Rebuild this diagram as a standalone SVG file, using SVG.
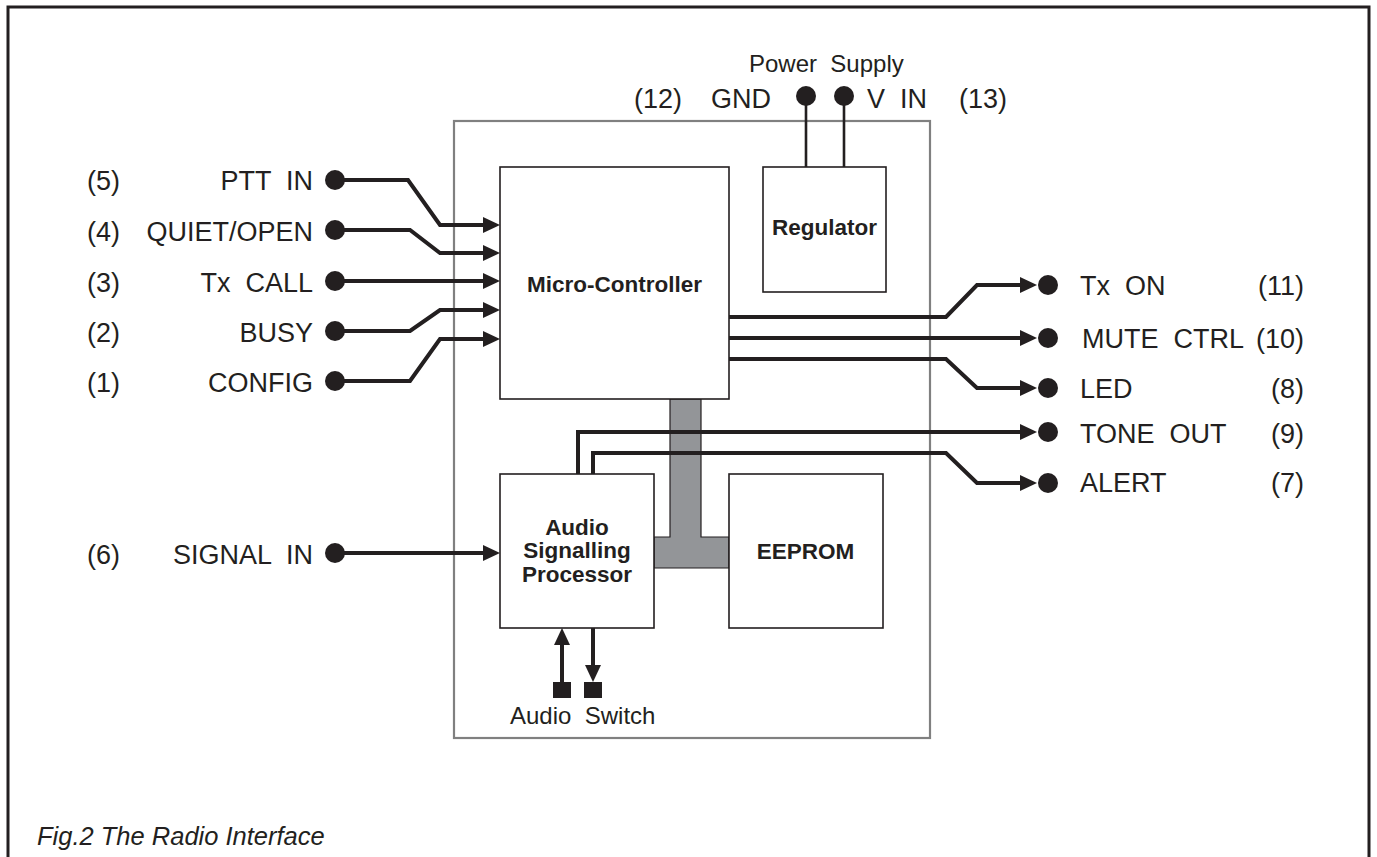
<svg xmlns="http://www.w3.org/2000/svg" width="1377" height="857" viewBox="0 0 1377 857">
<style>
text{font-family:"Liberation Sans",Arial,Helvetica,sans-serif;fill:#231f20;white-space:pre}
.t{font-size:27px}
.s{font-size:24px}
.b{font-size:22.5px;font-weight:bold}
.cap{font-size:25.5px;font-style:italic}
.box{fill:#fff;stroke:#231f20;stroke-width:1.6}
.sig{fill:none;stroke:#231f20;stroke-width:4;stroke-linejoin:miter}
.pw{fill:none;stroke:#231f20;stroke-width:2.6}
.dot{fill:#231f20}
</style>
<defs>
<marker id="ah" markerUnits="userSpaceOnUse" markerWidth="18" markerHeight="18" viewBox="0 0 18 18" refX="1" refY="9" orient="auto">
<path d="M0,1 L17,9 L0,17 z" fill="#231f20"/>
</marker>
</defs>
<rect width="1377" height="857" fill="#fff"/>
<path d="M8,857 V7 H1369 V857" fill="none" stroke="#231f20" stroke-width="3"/>
<g id="module"><rect x="454" y="121" width="476" height="617" fill="none" stroke="#808080" stroke-width="2.2"/></g>
<g id="bus"><path d="M670,399 H701 V537 H729 V568 H654 V537 H670 Z" fill="#939598" stroke="#231f20" stroke-width="1.2"/></g>
<g id="microcontroller"><rect class="box" x="500" y="167" width="229" height="232"/><text class="b" x="614.5" y="292" text-anchor="middle">Micro-Controller</text></g>
<g id="regulator"><rect class="box" x="763" y="167" width="123" height="125"/><text class="b" x="824.5" y="235" text-anchor="middle">Regulator</text></g>
<g id="asp"><rect class="box" x="500" y="474" width="154" height="154"/><text class="b" x="577" y="535" text-anchor="middle">Audio</text><text class="b" x="577" y="558" text-anchor="middle">Signalling</text><text class="b" x="577" y="582" text-anchor="middle">Processor</text></g>
<g id="eeprom"><rect class="box" x="729" y="474" width="154" height="154"/><text class="b" x="805.5" y="559" text-anchor="middle">EEPROM</text></g>
<g id="connectors">
<path class="sig" d="M335,180 H408 L440,225 H484" marker-end="url(#ah)"/>
<path class="sig" d="M335,230 H410 L440,253 H484" marker-end="url(#ah)"/>
<path class="sig" d="M335,281 H484" marker-end="url(#ah)"/>
<path class="sig" d="M335,331 H410 L440,310 H484" marker-end="url(#ah)"/>
<path class="sig" d="M335,381 H410 L440,339 H484" marker-end="url(#ah)"/>
<path class="sig" d="M335,553 H484" marker-end="url(#ah)"/>
<path class="sig" d="M729,317 H946 L977,285 H1021" marker-end="url(#ah)"/>
<path class="sig" d="M729,338 H1021" marker-end="url(#ah)"/>
<path class="sig" d="M729,359 H946 L977,388 H1021" marker-end="url(#ah)"/>
<path class="sig" d="M578,474 V432 H1021" marker-end="url(#ah)"/>
<path class="sig" d="M593,474 V453 H946 L977,483 H1021" marker-end="url(#ah)"/>
<path class="sig" d="M562,682 V644" marker-end="url(#ah)"/>
<path class="sig" d="M593,628 V666" marker-end="url(#ah)"/>
<path class="pw" d="M806,96 V167 M844,96 V167"/>
</g>
<g id="terminals">
<circle class="dot" cx="335" cy="180" r="10"/>
<circle class="dot" cx="335" cy="230" r="10"/>
<circle class="dot" cx="335" cy="281" r="10"/>
<circle class="dot" cx="335" cy="331" r="10"/>
<circle class="dot" cx="335" cy="381" r="10"/>
<circle class="dot" cx="335" cy="553" r="10"/>
<circle class="dot" cx="1048" cy="285" r="10"/>
<circle class="dot" cx="1048" cy="338" r="10"/>
<circle class="dot" cx="1048" cy="388" r="10"/>
<circle class="dot" cx="1048" cy="432" r="10"/>
<circle class="dot" cx="1048" cy="483" r="10"/>
<circle class="dot" cx="806" cy="96" r="10"/>
<circle class="dot" cx="844" cy="96" r="10"/>
<rect class="dot" x="553" y="682" width="18" height="16"/>
<rect class="dot" x="584" y="682" width="18" height="16"/>
</g>
<g id="labels">
<text class="t" x="87" y="190">(5)</text>
<text class="t" x="87" y="241">(4)</text>
<text class="t" x="87" y="292">(3)</text>
<text class="t" x="87" y="342">(2)</text>
<text class="t" x="87" y="392">(1)</text>
<text class="t" x="87" y="564">(6)</text>
<text class="t" x="313" y="190" text-anchor="end">PTT  IN</text>
<text class="t" x="313" y="241" text-anchor="end">QUIET/OPEN</text>
<text class="t" x="313" y="292" text-anchor="end">Tx  CALL</text>
<text class="t" x="313" y="342" text-anchor="end">BUSY</text>
<text class="t" x="313" y="392" text-anchor="end">CONFIG</text>
<text class="t" x="313" y="564" text-anchor="end">SIGNAL  IN</text>
<text class="t" x="1080" y="295">Tx  ON</text>
<text class="t" x="1082" y="348">MUTE  CTRL</text>
<text class="t" x="1080" y="398">LED</text>
<text class="t" x="1080" y="443">TONE  OUT</text>
<text class="t" x="1080" y="492">ALERT</text>
<text class="t" x="1304" y="295" text-anchor="end">(11)</text>
<text class="t" x="1304" y="348" text-anchor="end">(10)</text>
<text class="t" x="1304" y="398" text-anchor="end">(8)</text>
<text class="t" x="1304" y="443" text-anchor="end">(9)</text>
<text class="t" x="1304" y="492" text-anchor="end">(7)</text>
<text class="s" x="749" y="72">Power  Supply</text>
<text class="t" x="634" y="108">(12)</text>
<text class="t" x="711" y="108">GND</text>
<text class="t" x="867" y="108">V  IN</text>
<text class="t" x="959" y="108">(13)</text>
<text class="s" x="510" y="724">Audio  Switch</text>
<text class="cap" x="37" y="845">Fig.2 The Radio Interface</text>
</g>
</svg>
